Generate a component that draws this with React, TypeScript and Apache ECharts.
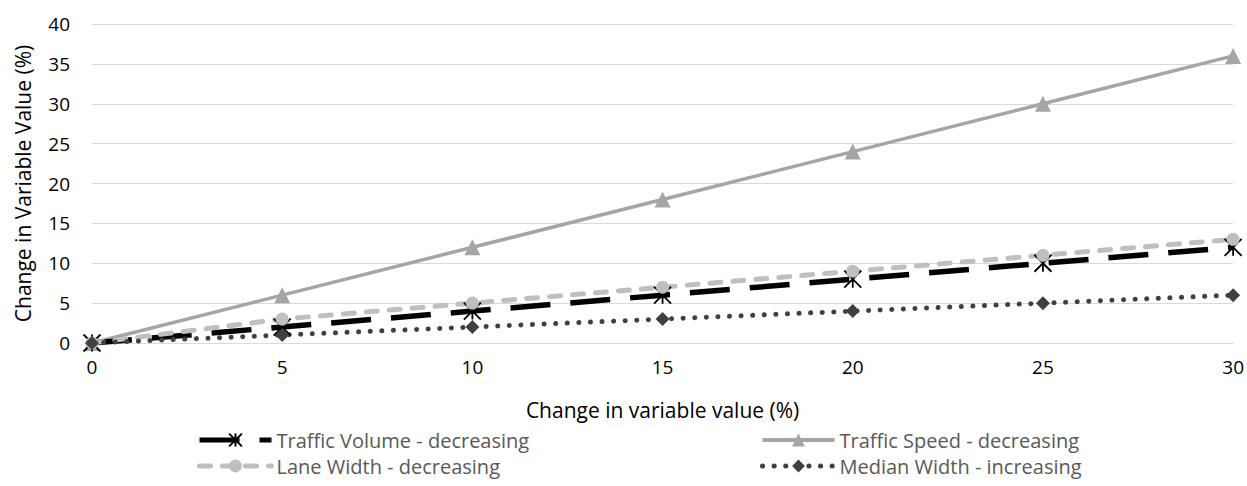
import React, { useEffect, useRef } from "react";
import * as echarts from "echarts";

const xValues = [0, 5, 10, 15, 20, 25, 30];
const trafficVolume = [0, 2, 4, 6, 8, 10, 12];
const trafficSpeed = [0, 6, 12, 18, 24, 30, 36];
const laneWidth = [0, 3, 5, 7, 9, 11, 13];
const medianWidth = [0, 1, 2, 3, 4, 5, 6];

const seriesNames = [
  "Traffic Volume - decreasing",
  "Traffic Speed - decreasing",
  "Lane Width - decreasing",
  "Median Width - increasing",
];

const FONT = "'Open Sans', 'Liberation Sans', sans-serif";

const pairs = (ys: number[]) => xValues.map((x, i) => [x, ys[i]]);

export default function App() {
  const ref = useRef<HTMLDivElement>(null);
  useEffect(() => {
    if (!ref.current) return;
    const chart = echarts.init(ref.current, undefined, { renderer: "svg" });
    const legendText = { fontFamily: FONT, fontSize: 20, lineHeight: 20, color: "#595959" };
    const legendCommon = {
      orient: "vertical",
      top: 425,
      itemWidth: 72,
      itemHeight: 16,
      itemGap: 6,
      textStyle: legendText,
    };
    chart.setOption({
      animation: false,
      backgroundColor: "#fff",
      grid: { left: 92, right: 13, top: 24, bottom: 143, containLabel: false },
      xAxis: {
        type: "value",
        min: 0,
        max: 30,
        interval: 5,
        name: "Change in variable value (%)",
        nameLocation: "middle",
        nameGap: 56,
        nameTextStyle: { fontFamily: FONT, fontSize: 21, color: "#000" },
        axisLine: { show: true, lineStyle: { color: "#D9D9D9", width: 1 } },
        axisTick: { show: false },
        splitLine: { show: false },
        axisLabel: { fontFamily: FONT, fontSize: 19, color: "#000", margin: 14 },
      },
      yAxis: {
        type: "value",
        min: 0,
        max: 40,
        interval: 5,
        name: "Change in Variable Value (%)",
        nameLocation: "middle",
        nameGap: 59,
        nameTextStyle: { fontFamily: FONT, fontSize: 21, color: "#000" },
        axisLine: { show: false },
        axisTick: { show: false },
        splitLine: { lineStyle: { color: "#D9D9D9", width: 1 } },
        axisLabel: { fontFamily: FONT, fontSize: 19, color: "#000", margin: 22 },
      },
      legend: [
        {
          ...legendCommon,
          left: 192,
          data: [
            { name: seriesNames[0], lineStyle: { width: 5 } },
            { name: seriesNames[2], lineStyle: { width: 5 } },
          ],
        },
        {
          ...legendCommon,
          left: 755,
          data: [
            { name: seriesNames[1], lineStyle: { width: 4 } },
            { name: seriesNames[3], lineStyle: { width: 5 } },
          ],
        },
      ],
      series: [
        {
          name: seriesNames[1],
          type: "line",
          data: pairs(trafficSpeed),
          symbol: "triangle",
          symbolSize: 16,
          lineStyle: { color: "#A5A5A5", width: 3.5 },
          itemStyle: { color: "#A5A5A5" },
        },
        {
          name: seriesNames[0],
          type: "line",
          data: pairs(trafficVolume),
          symbol: "path://M0,0 L10,10 M10,0 L0,10 M5,0 L5,10",
          symbolSize: 17,
          lineStyle: { color: "#000000", width: 5.5, type: [40, 20] },
          itemStyle: { color: "transparent", borderColor: "#000000", borderWidth: 1.8 },
        },
        {
          name: seriesNames[2],
          type: "line",
          data: pairs(laneWidth),
          symbol: "circle",
          symbolSize: 13,
          lineStyle: { color: "#BFBFBF", width: 5, type: [11, 12], cap: "round" },
          itemStyle: { color: "#BFBFBF" },
        },
        {
          name: seriesNames[3],
          type: "line",
          data: pairs(medianWidth),
          symbol: "diamond",
          symbolSize: 14,
          lineStyle: { color: "#404040", width: 5, type: [0.1, 11.5], cap: "round" },
          itemStyle: { color: "#404040" },
        },
      ],
    });
    return () => chart.dispose();
  }, []);
  return <div ref={ref} style={{ width: 1247, height: 486, position: "absolute", left: 0, top: 0 }} />;
}
